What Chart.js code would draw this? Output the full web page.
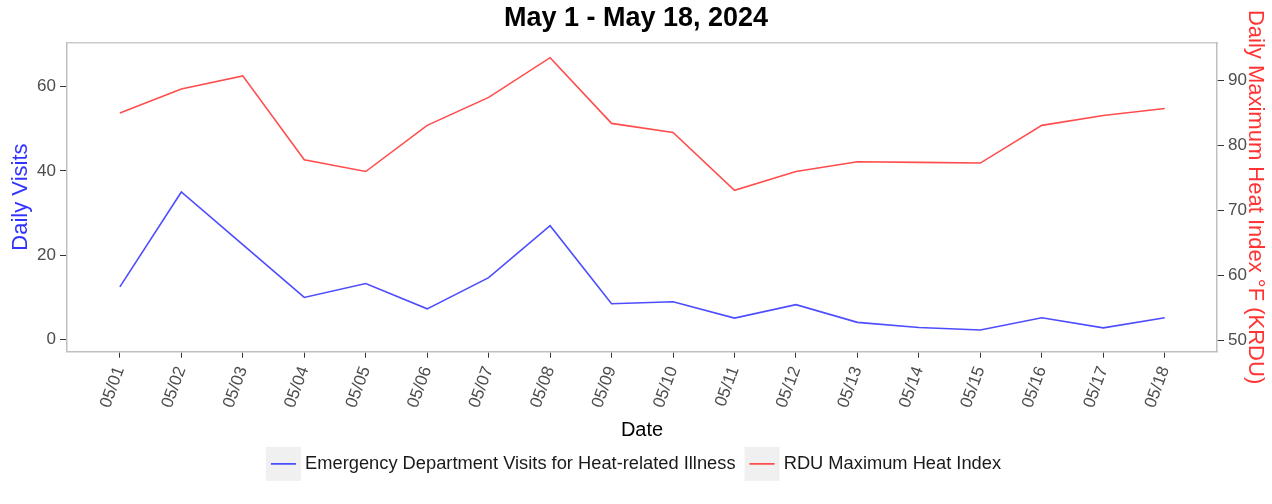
<!DOCTYPE html>
<html>
<head>
<meta charset="utf-8">
<script src="https://cdn.jsdelivr.net/npm/chart.js@4.4.1/dist/chart.umd.min.js"></script>
<style>
  html, body { margin: 0; padding: 0; background: #ffffff; }
  #wrap { width: 1272px; height: 504px; position: relative; }
</style>
</head>
<body>
<div id="wrap"><canvas id="c" width="1272" height="504"></canvas></div>
<script>
const dates = ["05/01","05/02","05/03","05/04","05/05","05/06","05/07","05/08","05/09","05/10","05/11","05/12","05/13","05/14","05/15","05/16","05/17","05/18"];
const edVisits = [12.5, 35, 22.5, 10, 13.3, 7.3, 14.7, 27, 8.5, 9, 5.1, 8.3, 4.1, 2.9, 2.3, 5.2, 2.8, 5.2];
const heatIndex = [85.0, 88.7, 90.7, 77.8, 76.0, 83.1, 87.4, 93.5, 83.4, 82.0, 73.1, 76.0, 77.5, 77.4, 77.3, 83.1, 84.6, 85.7];
const leftTicks = [0, 20, 40, 60];
const rightTicks = [50, 60, 70, 80, 90];

const FONT = "'Liberation Sans', Arial, sans-serif";

const legendKeyBg = {
  id: 'legendKeyBg',
  beforeDraw(chart) {
    const lg = chart.legend;
    if (!lg || !lg.legendHitBoxes) return;
    const ctx = chart.ctx;
    ctx.save();
    ctx.fillStyle = '#f0f0f0';
    lg.legendHitBoxes.forEach(hb => {
      const cy = hb.top + hb.height / 2;
      ctx.fillRect(hb.left - 5, cy - 17, 35, 34);
    });
    ctx.restore();
  }
};

new Chart(document.getElementById('c'), {
  type: 'line',
  data: {
    datasets: [
      {
        label: 'Emergency Department Visits for Heat-related Illness',
        data: dates.map((d, i) => ({ x: i + 1, y: edVisits[i] })),
        borderColor: '#4d4dff',
        backgroundColor: '#4d4dff',
        borderWidth: 1.6,
        pointRadius: 0,
        tension: 0,
        yAxisID: 'y'
      },
      {
        label: 'RDU Maximum Heat Index',
        data: dates.map((d, i) => ({ x: i + 1, y: heatIndex[i] })),
        borderColor: '#ff4d4d',
        backgroundColor: '#ff4d4d',
        borderWidth: 1.6,
        pointRadius: 0,
        tension: 0,
        yAxisID: 'y2'
      }
    ]
  },
  options: {
    responsive: false,
    animation: false,
    events: [],
    layout: { padding: { left: 0, right: 0, top: 0, bottom: 21 } },
    plugins: {
      title: {
        display: true,
        text: 'May 1 - May 18, 2024',
        color: '#000000',
        font: { family: FONT, size: 27, weight: 'bold' },
        padding: { top: 2, bottom: 8 }
      },
      legend: {
        display: true,
        position: 'bottom',
        labels: {
          usePointStyle: true,
          pointStyle: 'line',
          pointStyleWidth: 25,
          color: '#1a1a1a',
          font: { family: FONT, size: 18.3 },
          padding: 14
        }
      },
      tooltip: { enabled: false }
    },
    scales: {
      x: {
        type: 'linear',
        position: 'bottom',
        min: 0.14,
        max: 18.85,
        afterBuildTicks: s => { s.ticks = dates.map((d, i) => ({ value: i + 1 })); },
        afterFit: s => { s.height = 89; },
        ticks: {
          autoSkip: false,
          minRotation: 70,
          maxRotation: 70,
          padding: 6,
          color: '#4d4d4d',
          font: { family: FONT, size: 17 },
          callback: v => dates[Math.round(v) - 1] || ''
        },
        grid: { display: true, drawOnChartArea: false, drawTicks: true, tickLength: 6, tickColor: '#333333' },
        border: { display: true, color: '#bfbfbf', width: 1.5 },
        title: {
          display: true,
          text: 'Date',
          color: '#000000',
          font: { family: FONT, size: 20 },
          padding: { top: 0, bottom: -2 }
        }
      },
      xTop: {
        type: 'linear',
        position: 'top',
        min: 0.14,
        max: 18.85,
        afterFit: s => { s.height = 0; },
        ticks: { display: false },
        grid: { display: false, drawTicks: false },
        border: { display: true, color: '#cccccc', width: 1.5, dash: [27, 4] }
      },
      y: {
        type: 'linear',
        position: 'left',
        min: -2.85,
        max: 70.43,
        afterBuildTicks: s => { s.ticks = leftTicks.map(v => ({ value: v })); },
        afterFit: s => { s.width = 67; },
        ticks: {
          padding: 4,
          color: '#4d4d4d',
          font: { family: FONT, size: 17 }
        },
        grid: { display: true, drawOnChartArea: false, drawTicks: true, tickLength: 7, tickColor: '#333333' },
        border: { display: true, color: '#bfbfbf', width: 1.5 },
        title: {
          display: true,
          text: 'Daily Visits',
          color: '#3333ff',
          font: { family: FONT, size: 22 },
          padding: { top: 8, bottom: 0 }
        }
      },
      y2: {
        type: 'linear',
        position: 'right',
        min: 48.3,
        max: 95.85,
        afterBuildTicks: s => { s.ticks = rightTicks.map(v => ({ value: v })); },
        afterFit: s => { s.width = 55; },
        ticks: {
          padding: 4,
          color: '#4d4d4d',
          font: { family: FONT, size: 17 }
        },
        grid: { display: true, drawOnChartArea: false, drawTicks: true, tickLength: 7, tickColor: '#333333' },
        border: { display: true, color: '#bfbfbf', width: 1.5 },
        title: {
          display: true,
          text: 'Daily Maximum Heat Index °F (KRDU)',
          color: '#ff3333',
          font: { family: FONT, size: 22 },
          padding: { top: 4, bottom: 0 }
        }
      }
    }
  },
  plugins: [legendKeyBg]
});
</script>
</body>
</html>
